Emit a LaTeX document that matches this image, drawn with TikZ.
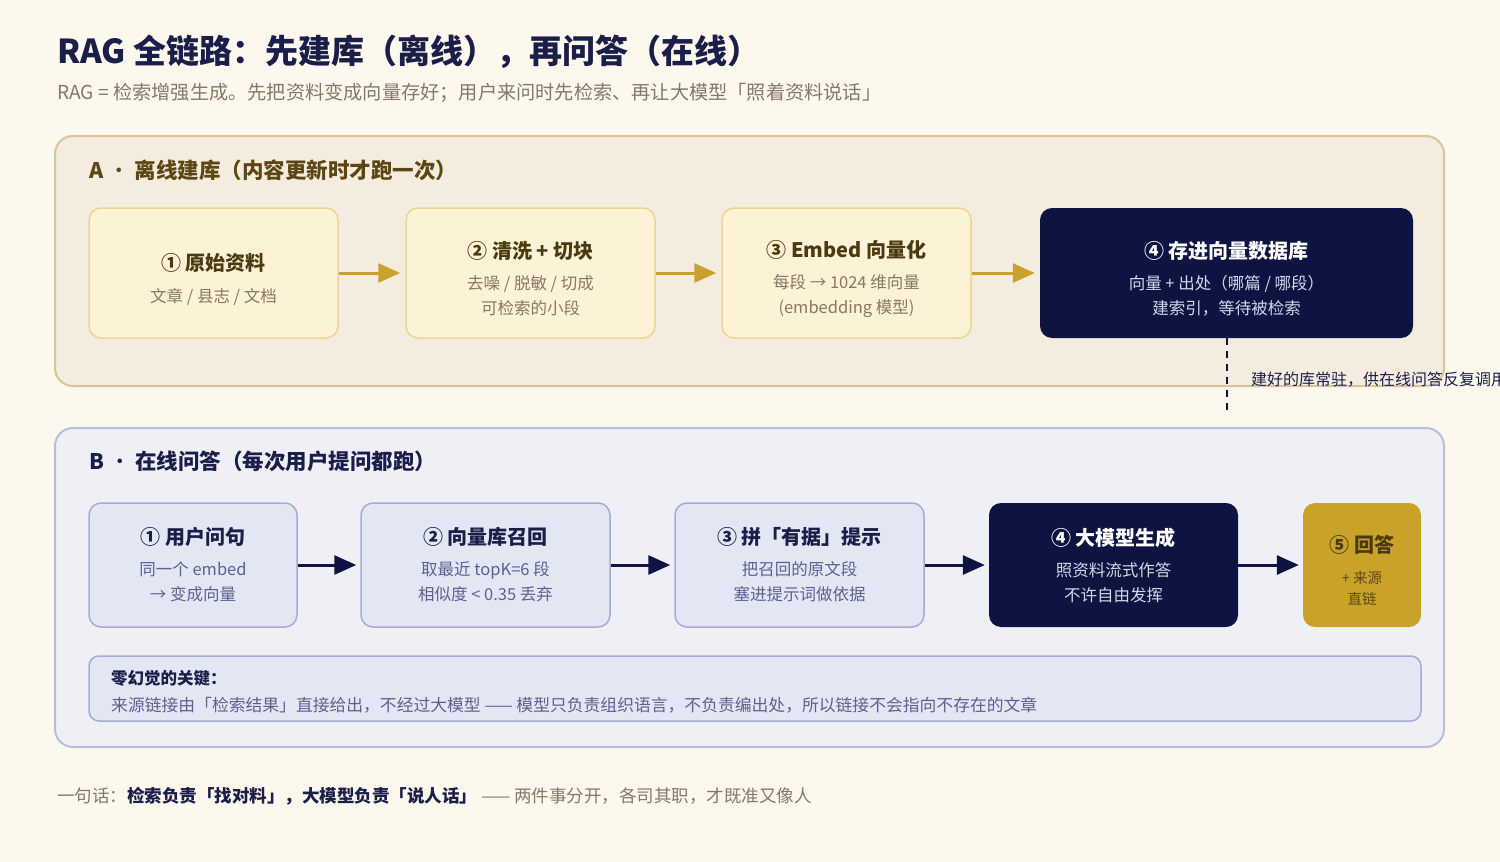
\documentclass[tikz,border=0pt]{standalone}
\usepackage{fontspec}
\setmainfont{Noto Sans CJK SC}
\usetikzlibrary{arrows.meta,positioning}
\definecolor{pagebg}{HTML}{FDF8EE}
\definecolor{navy}{HTML}{0D1442}
\definecolor{inknavy}{HTML}{1A1F4A}
\definecolor{gold}{HTML}{C9A22E}
\definecolor{panelAfill}{HTML}{F5ECE0}
\definecolor{panelAline}{HTML}{D9C597}
\definecolor{boxAfill}{HTML}{FCF2D6}
\definecolor{boxAline}{HTML}{EAD595}
\definecolor{brownhead}{HTML}{5B4614}
\definecolor{browntext}{HTML}{4A3A10}
\definecolor{graybrown}{HTML}{857966}
\definecolor{panelBfill}{HTML}{EFF0F6}
\definecolor{panelBline}{HTML}{B9BDDD}
\definecolor{boxBfill}{HTML}{E3E6F3}
\definecolor{boxBline}{HTML}{A5ABD2}
\definecolor{bluegray}{HTML}{5A6290}
\definecolor{palesub}{HTML}{D3D7EA}
\definecolor{answergold}{HTML}{C9A22A}
\definecolor{answerbrown}{HTML}{5E4A1A}
\newcommand{\stagetitle}[1]{{\bfseries\fontsize{20}{25}\selectfont #1}}
\newcommand{\lowstrut}{\rule{0pt}{29pt}}
\newcommand{\thindot}{{\mdseries ·}}

\begin{document}
\begin{tikzpicture}[x=1pt,y=-1pt,
    stageA/.style={draw=boxAline, fill=boxAfill, line width=1.5pt, rounded corners=12pt,
      minimum width=249pt, minimum height=130pt, align=center, text=graybrown,
      font=\fontsize{16.5}{25}\selectfont},
    stageB/.style={draw=boxBline, fill=boxBfill, line width=1.5pt, rounded corners=12pt,
      minimum width=249pt, minimum height=124pt, align=center, text=bluegray,
      font=\fontsize{16.5}{25}\selectfont},
    darkstage/.style={fill=navy, rounded corners=12pt, minimum height=130pt,
      align=center, text=palesub, font=\fontsize{16.5}{25}\selectfont},
    flowA/.style={draw=gold, line width=3pt, shorten >=5pt, -{Triangle[length=22pt,width=19pt]}},
    flowB/.style={draw=navy, line width=3pt, shorten >=4pt, -{Triangle[length=22pt,width=19pt]}},
    plain/.style={anchor=west, inner sep=0pt},
    panelhead/.style={plain, font=\bfseries\fontsize{21.5}{25}\selectfont}]

    % Page and frame
    \useasboundingbox (0,0) rectangle (1500,862);
    \fill[pagebg] (0,0) rectangle (1500,862);

    % Title
    \node[plain, text=inknavy, font=\bfseries\fontsize{33}{38}\selectfont] (title) at (57,52)
      {RAG 全链路：先建库（离线），再问答（在线）};
    \node[plain, text=graybrown, font=\fontsize{19.2}{22}\selectfont] (subtitle) at (57,93)
      {RAG = 检索增强生成。先把资料变成向量存好；用户来问时先检索、再让大模型「照着资料说话」};

    % A: offline build
    \draw[fill=panelAfill, draw=panelAline, line width=2pt, rounded corners=18pt] (55,136) rectangle (1444,386);
    \node[panelhead, text=brownhead] (headA) at (89,170) {A \thindot\ 离线建库（内容更新时才跑一次）};

    \node[stageA] (rawdocs) at (213.5,273) {\lowstrut\textcolor{browntext}{\stagetitle{① 原始资料}}\\[7pt] 文章 / 县志 / 文档};
    \node[stageA] (cleanchunk) at (530.5,273) {\lowstrut\textcolor{browntext}{\stagetitle{② 清洗 + 切块}}\\[6pt] 去噪 / 脱敏 / 切成\\ 可检索的小段};
    \node[stageA] (embedvec) at (846.5,273) {\lowstrut\textcolor{browntext}{\stagetitle{③ Embed 向量化}}\\[6pt] 每段 → 1024 维向量\\ (embedding 模型)};
    \node[darkstage, minimum width=373pt] (vectordb) at (1226.5,273) {\lowstrut\textcolor{white}{\stagetitle{④ 存进向量数据库}}\\[6pt] 向量 + 出处（哪篇 / 哪段）\\ 建索引，等待被检索};

    \draw[flowA] (rawdocs) -- (cleanchunk);
    \draw[flowA] (cleanchunk) -- (embedvec);
    \draw[flowA] (embedvec) -- (vectordb);

    % Link from the store to the online side
    \coordinate (dbdrop) at (1226.5,416);
    \draw[navy, line width=2pt, dash pattern=on 7pt off 6pt] (vectordb.south) -- (dbdrop);
    \node[plain, text=inknavy, font=\fontsize{16}{18}\selectfont] (droplabel) at (1251,380)
      {建好的库常驻，供在线问答反复调用};

    % B: online answering
    \draw[fill=panelBfill, draw=panelBline, line width=2pt, rounded corners=18pt] (55,428) rectangle (1444,747);
    \node[panelhead, text=inknavy] (headB) at (89,461) {B \thindot\ 在线问答（每次用户提问都跑）};

    \node[stageB, minimum width=208pt] (userq) at (193,565) {\textcolor{inknavy}{\stagetitle{① 用户问句}}\\[6pt] 同一个 embed\\ → 变成向量};
    \node[stageB] (recall) at (485.5,565) {\textcolor{inknavy}{\stagetitle{② 向量库召回}}\\[6pt] 取最近 topK=6 段\\ 相似度 < 0.35 丢弃};
    \node[stageB] (prompt) at (799.5,565) {\textcolor{inknavy}{\stagetitle{③ 拼「有据」提示}}\\[6pt] 把召回的原文段\\ 塞进提示词做依据};
    \node[darkstage, minimum width=249pt, minimum height=124pt] (llmgen) at (1113.5,565) {\textcolor{white}{\stagetitle{④ 大模型生成}}\\[6pt] 照资料流式作答\\ 不许自由发挥};
    \node[fill=answergold, rounded corners=12pt, minimum width=118pt, minimum height=124pt,
      align=center, text=answerbrown, font=\fontsize{14.5}{21}\selectfont] (answer) at (1362,565)
      {\lowstrut\textcolor{browntext}{\stagetitle{⑤ 回答}}\\[10pt] + 来源\\ 直链};

    \draw[flowB] (userq) -- (recall);
    \draw[flowB] (recall) -- (prompt);
    \draw[flowB] (prompt) -- (llmgen);
    \draw[flowB] (llmgen) -- (answer);

    % Key note
    \draw[fill=boxBfill, draw=boxBline, line width=1.5pt, rounded corners=10pt] (89,656) rectangle (1421,721);
    \node[plain, text=inknavy, font=\bfseries\fontsize{16.5}{20}\selectfont] (notehead) at (111,678) {零幻觉的关键：};
    \node[plain, text=bluegray, font=\fontsize{16.8}{20}\selectfont] (notebody) at (111,705)
      {来源链接由「检索结果」直接给出，不经过大模型 —— 模型只负责组织语言，不负责编出处，所以链接不会指向不存在的文章};

    % Footer
    \node[plain, text=graybrown, font=\fontsize{17.5}{20}\selectfont] (footer) at (57,796)
      {一句话：\textcolor{inknavy}{\bfseries 检索负责「找对料」，大模型负责「说人话」} —— 两件事分开，各司其职，才既准又像人};

\end{tikzpicture}
\end{document}
